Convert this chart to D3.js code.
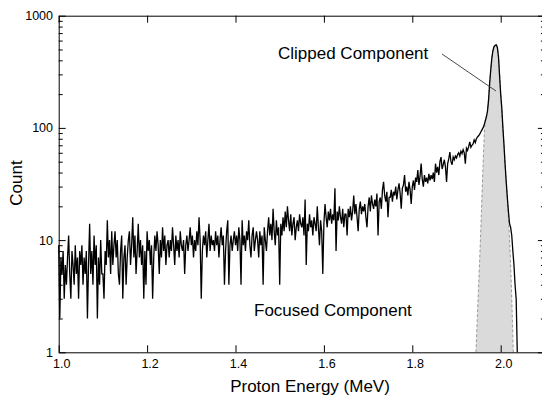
<!DOCTYPE html>
<html><head><meta charset="utf-8">
<script src="https://cdn.jsdelivr.net/npm/d3@7"></script>
<style>
body{margin:0;background:#fff;}
svg{display:block;font-family:"Liberation Sans",Arial,Helvetica,sans-serif;}
</style>
</head><body>
<svg id="chart" width="542" height="398"></svg>
<script>
// ---- data ----
const binStart = 1.0;      // MeV, first bin
const binWidth = 0.0025;   // MeV per bin
// measured counts, 20 bins (0.05 MeV) per row
const counts = [
  9,2,7,5,8,3,6,4,7,11,5,3,8,6,4,9,5,7,3,8,
  6,9,4,7,5,8,2,6,14,5,8,4,11,6,9,2,7,4,10,5,
  5,3,8,6,15,7,10,5,12,6,9,12,7,10,5,4,8,11,3,7,
  9,4,7,10,12,6,9,16,7,11,5,8,14,7,10,6,9,3,8,4,
  12,8,10,6,9,3,7,11,8,12,9,5,10,7,13,8,11,6,9,10,
  7,10,8,13,9,6,11,8,10,7,12,9,8,10,5,9,11,8,10,13,
  9,11,7,10,8,12,9,16,10,3,8,11,9,12,7,10,14,8,11,9,
  10,8,12,9,11,7,10,13,9,11,4,8,12,15,4,9,11,8,10,12,
  9,11,8,13,10,4,15,9,11,8,12,10,15,9,7,11,13,8,10,12,
  10,7,12,9,11,4,13,10,8,12,16,11,14,10,19,12,9,15,11,13,
  4,14,11,16,12,18,13,20,15,12,17,11,14,16,10,13,15,12,17,14,
  13,16,11,23,6,14,12,17,13,15,11,16,14,12,20,13,9,15,12,5,
  14,21,16,13,18,15,19,14,17,15,29,8,18,15,20,16,14,19,13,17,
  17,11,19,16,20,15,18,25,17,21,16,12,19,22,17,20,18,21,16,13,
  20,24,18,25,21,19,23,20,26,11,22,24,19,28,33,25,22,27,16,24,
  24,28,22,27,25,30,23,28,32,26,19,29,31,38,27,30,25,33,28,21,
  30,34,28,36,33,42,31,37,48,35,30,38,33,36,32,39,34,38,35,40,
  33,48,40,45,38,50,55,43,47,52,45,33,48,53,61,50,47,55,52,56,
  54,58,60,56,62,59,64,60,48,66,63,68,75,67,70,72,78,74,80,83,
  85,88,92,96,
  // peak region from 1.960 MeV
  100,106,115,125,140,175,250,330,420,490,530,545,550,520,430,290,200,150,100,70,
  47,33,24,18,14,13,11,8,6,4,3,1
];
// clipped component (shaded)
const compEnergy = [1.944,1.948,1.952,1.956,1.960,1.9645,1.970,1.975,1.980,1.985,1.990,1.995,2.000,2.005,2.010,2.015,2.020,2.024,2.0285];
const compCounts = [1,2.5,6,16,45,110,140,250,420,530,550,430,200,100,47,24,10,4,1];

const xTickValues = [1.0,1.2,1.4,1.6,1.8,2.0];
const yTickValues = [1,10,100,1000];
const yMinorValues = [2,3,4,5,6,7,8,9,20,30,40,50,60,70,80,90,200,300,400,500,600,700,800,900];

const xTitle = "Proton Energy (MeV)";
const yTitle = "Count";
const labelClipped = "Clipped Component";
const labelFocused = "Focused Component";

// ---- chart ----
const svg = d3.select("#chart");
const x = d3.scaleLinear().domain([1.0, 2.1]).range([58.7, 544.9]);
const y = d3.scaleLog().domain([1, 1000]).range([352.3, 15.7]);

// shaded component
const comp = compEnergy.map((e,i)=>({e, v: compCounts[i]}));
svg.append("path").datum(comp)
  .attr("d", d3.area().x(d=>x(d.e)).y0(y(1)).y1(d=>y(d.v)).curve(d3.curveMonotoneX))
  .attr("fill", "#dadada");
svg.append("path").datum(comp)
  .attr("d", d3.line().x(d=>x(d.e)).y(d=>y(d.v)).curve(d3.curveMonotoneX))
  .attr("fill", "none").attr("stroke", "#9a9a9a").attr("stroke-width", 1)
  .attr("stroke-dasharray", "3,2");

// data line
svg.append("path").datum(counts)
  .attr("d", d3.line().x((d,i)=>x(binStart + i*binWidth)).y(d=>y(d)))
  .attr("fill", "none").attr("stroke", "#000").attr("stroke-width", 1.3)
  .attr("stroke-linejoin", "miter");

function styleAxis(g){
  g.selectAll("path.domain").attr("stroke", "#000").attr("stroke-width", 1);
  g.selectAll(".tick line").attr("stroke", "#000").attr("stroke-width", 1);
  g.selectAll("text").attr("font-family", null).attr("font-size", 12.5).attr("fill", "#000");
  g.attr("font-family", null).attr("font-size", null);
}

// bottom axis
const gB = svg.append("g").attr("transform", `translate(0,${y(1)})`)
  .call(d3.axisBottom(x).tickValues(xTickValues).tickSize(-7).tickSizeOuter(0).tickPadding(6.5).tickFormat(d3.format(".1f")));
styleAxis(gB);
gB.selectAll("text").attr("dx", 2.5);
// top axis
const gT = svg.append("g").attr("transform", `translate(0,${y(1000)})`)
  .call(d3.axisTop(x).tickValues(xTickValues).tickSize(-7).tickSizeOuter(0).tickFormat(""));
styleAxis(gT);
// left axis
const gL = svg.append("g").attr("transform", `translate(${x(1.0)},0)`)
  .call(d3.axisLeft(y).tickValues(yTickValues).tickSize(-7).tickSizeOuter(0).tickPadding(5.7).tickFormat(d3.format("d")));
styleAxis(gL);
const gLm = svg.append("g").attr("transform", `translate(${x(1.0)},0)`)
  .call(d3.axisLeft(y).tickValues(yMinorValues).tickSize(-4).tickSizeOuter(0).tickFormat(""));
styleAxis(gLm);
gLm.select("path.domain").remove();
// right axis
const gR = svg.append("g").attr("transform", `translate(${x(2.1)},0)`)
  .call(d3.axisRight(y).tickValues(yTickValues).tickSize(-7).tickSizeOuter(0).tickFormat(""));
styleAxis(gR);
const gRm = svg.append("g").attr("transform", `translate(${x(2.1)},0)`)
  .call(d3.axisRight(y).tickValues(yMinorValues).tickSize(-4).tickSizeOuter(0).tickFormat(""));
styleAxis(gRm);
gRm.select("path.domain").remove();

// titles
svg.append("text").attr("x", 310).attr("y", 392).attr("text-anchor", "middle")
  .attr("font-size", 17).attr("fill", "#000").text(xTitle);
svg.append("text").attr("transform", "translate(22,183) rotate(-90)").attr("text-anchor", "middle")
  .attr("font-size", 17).attr("fill", "#000").text(yTitle);

// annotations
svg.append("text").attr("x", 278).attr("y", 59).attr("font-size", 17).attr("fill", "#000").text(labelClipped);
svg.append("line").attr("x1", 442).attr("y1", 54).attr("x2", 496).attr("y2", 91)
  .attr("stroke", "#333").attr("stroke-width", 0.9);
svg.append("text").attr("x", 254).attr("y", 316).attr("font-size", 17).attr("fill", "#000").text(labelFocused);
</script>
</body></html>
